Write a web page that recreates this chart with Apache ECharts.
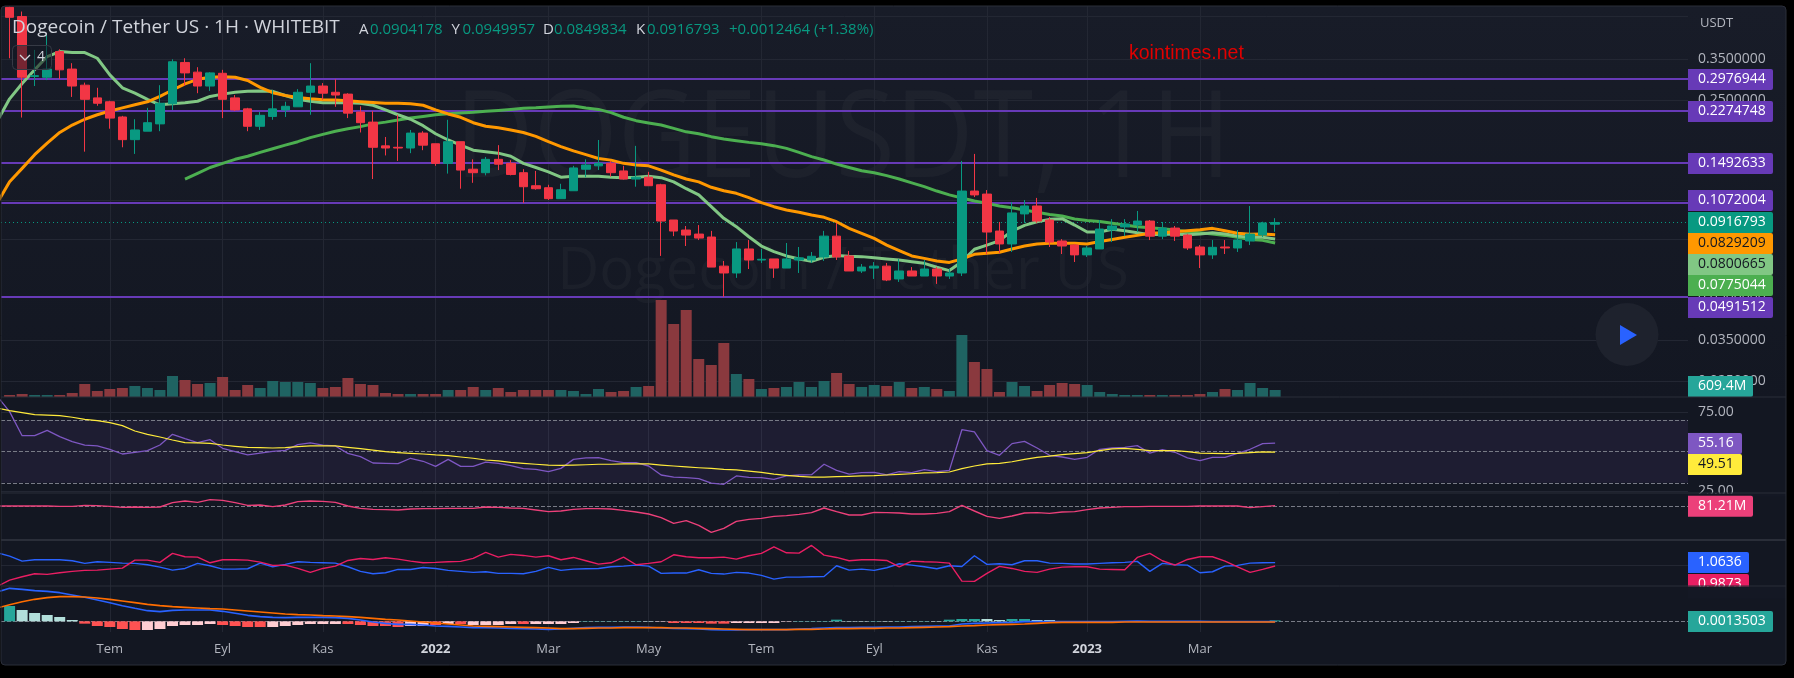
<!DOCTYPE html>
<html><head><meta charset="utf-8">
<script src="https://cdn.jsdelivr.net/npm/echarts@6/dist/echarts.min.js"></script>
<style>
html,body{margin:0;padding:0;background:#000;width:1794px;height:678px;overflow:hidden}
#panel{position:absolute;left:1px;top:6px;width:1785px;height:659px;background:linear-gradient(#181c28,#131722 60%);border-radius:4px}
#chart{position:absolute;left:0;top:0;width:1794px;height:678px}
</style></head><body><div id="panel"></div><div id="chart"></div>
<script>
const opens=[.536,.497,.304,.302,.373,.323,.283,.255,.247,.218,.181,.194,.206,.243,.341,.315,.281,.312,.255,.233,.202,.219,.231,.237,.267,.281,.267,.263,.227,.209,.172,.170,.169,.191,.175,.149,.178,.142,.138,.154,.149,.138,.124,.122,.1115,.119,.142,.146,.149,.140,.131,.133,.125,.0936,.0862,.0834,.0814,.0641,.0606,.0738,.0674,.0680,.0631,.0674,.0674,.0691,.0820,.0697,.0616,.0631,.0641,.0577,.0616,.0591,.0626,.0591,.0606,.1187,.1158,.0855,.0769,.0984,.1050,.0936,.0788,.0762,.0703,.0738,.0862,.0884,.0899,.0928,.0820,.0876,.0827,.0750,.0703,.0750,.0744,.0788,.0827,.0904178];
const closes=[.494,.302,.306,.323,.321,.281,.252,.244,.216,.181,.196,.208,.244,.343,.313,.281,.313,.252,.231,.202,.221,.233,.238,.267,.281,.265,.261,.225,.208,.170,.169,.169,.191,.173,.149,.178,.141,.138,.154,.148,.136,.123,.121,.1115,.120,.1435,.147,.149,.138,.131,.133,.124,.0928,.0855,.0827,.0807,.0636,.0606,.0738,.0674,.0678,.0631,.0680,.0686,.0695,.0820,.0691,.0616,.0636,.0641,.0572,.0616,.0591,.0626,.0591,.0606,.1187,.1150,.0848,.0769,.0992,.1050,.0928,.0781,.0756,.0703,.0744,.0869,.0891,.0906,.0928,.0820,.0876,.0820,.0744,.0703,.0748,.0744,.0794,.0834,.0914,.0916793];
const lows=[.353,.217,.281,.295,.298,.257,.164,.239,.198,.170,.161,.194,.194,.231,.281,.265,.270,.216,.229,.194,.196,.213,.218,.237,.222,.251,.237,.216,.192,.131,.159,.152,.162,.166,.146,.137,.121,.127,.135,.141,.135,.1076,.120,.1103,.1115,.119,.133,.141,.1336,.1305,.123,.124,.0697,.0820,.0756,.0794,.0636,.0498,.0582,.0626,.0658,.0582,.0631,.0606,.0658,.0669,.0674,.0616,.0606,.0577,.0567,.0563,.0591,.0591,.0554,.0577,.0591,.1130,.0708,.0714,.0720,.0914,.0914,.0750,.0708,.0663,.0691,.0738,.0781,.0820,.0848,.0794,.0800,.0788,.0732,.0631,.0680,.0708,.0720,.0762,.0814,.0849834];
const highs=[.539,.518,.378,.427,.380,.339,.289,.277,.249,.220,.214,.235,.283,.350,.353,.328,.315,.321,.261,.235,.227,.272,.247,.274,.339,.288,.297,.265,.238,.229,.185,.222,.196,.194,.175,.213,.178,.154,.157,.173,.153,.142,.140,.125,.126,.146,.154,.1805,.152,.146,.172,.139,.126,.0936,.0891,.0898,.0856,.0669,.0781,.0794,.0738,.0680,.0775,.0750,.0720,.0856,.0914,.0726,.0652,.0663,.0658,.0680,.0636,.0674,.0636,.0626,.1520,.1610,.1197,.0921,.1085,.1103,.1122,.0960,.0800,.0769,.0756,.0936,.0943,.0943,.1008,.0936,.0921,.0891,.0834,.0762,.0794,.0794,.0862,.1050,.0923,.0949957];
const volumes=[174,261,174,174,174,348,1131,522,696,783,957,783,609,1827,1479,1131,1218,1740,609,1044,783,1392,1305,1305,1218,783,870,1653,1131,1044,348,261,261,261,261,609,609,870,609,783,435,609,609,609,609,522,261,696,435,522,870,957,8439,6351,7569,3306,2784,4698,2001,1566,696,783,870,1305,870,1392,2088,1131,870,1044,957,1305,783,870,696,522,5394,3045,2436,435,1305,957,522,1044,1218,1131,1044,435,261,174,174,174,174,174,174,261,435,696,609,1218,783,609.4];
// moving averages start one bar before the first visible candle
const smaFast=[.210,.253,.287,.321,.358,.373,.370,.370,.353,.308,.277,.265,.252,.241,.243,.245,.248,.258,.263,.267,.269,.270,.269,.260,.252,.248,.245,.245,.245,.244,.240,.231,.222,.214,.203,.190,.1805,.173,.166,.164,.162,.158,.149,.144,.139,.133,.134,.134,.134,.133,.1325,.133,.134,.1325,.128,.121,.115,.1044,.0949,.0886,.0816,.0756,.0722,.0697,.0680,.0667,.0689,.0699,.0695,.0693,.0687,.0680,.0674,.0665,.0656,.0635,.0618,.0665,.0736,.0762,.0790,.0855,.0896,.0923,.0941,.0946,.0898,.0848,.0848,.0867,.0857,.0843,.0830,.0832,.0834,.0830,.0834,.0843,.0834,.0820,.0812,.0812,.0800665];
const smaMid=[.1073,.1282,.143,.160,.176,.192,.204,.214,.222,.229,.235,.241,.247,.258,.272,.286,.297,.302,.3035,.302,.294,.278,.266,.260,.256,.253,.2513,.2506,.249,.247,.2455,.244,.2439,.243,.240,.231,.2235,.2175,.208,.202,.1995,.196,.192,.186,.178,.171,.165,.160,.155,.153,.149,.147,.146,.141,.1355,.131,.128,.1224,.119,.1165,.1125,.108,.1044,.1016,.0997,.0975,.0957,.0923,.0874,.0839,.0805,.0762,.0728,.0697,.0683,.0669,.0661,.0680,.0706,.0712,.0718,.0738,.0756,.0769,.0773,.0773,.0773,.0769,.0784,.0798,.0812,.0825,.0839,.0843,.0850,.0857,.0864,.0874,.0857,.0839,.0832,.0834,.0829209];
const smaSlowFirstBar=14;
const smaSlow=[.131,.1373,.144,.149,.154,.158,.163,.168,.173,.178,.184,.189,.194,.198,.2014,.206,.209,.2127,.216,.219,.222,.224,.2253,.2265,.2284,.230,.232,.234,.235,.2367,.238,.2386,.2347,.232,.226,.2175,.2115,.2075,.204,.1986,.193,.190,.1855,.182,.1795,.177,.175,.1723,.1685,.163,.1574,.1532,.148,.144,.1403,.138,.1347,.131,.127,.1231,.1187,.115,.1122,.1094,.1073,.105,.1035,.1016,.0997,.098,.0967,.0944,.0933,.0925,.0911,.0898,.0886,.0879,.0871,.0862,.085,.0843,.0834,.0825,.0812,.0798,.0792,.0775044];
const levels=[.2975,.2290,.1494,.1079,.04994];
const lastPrice=.0916793;
const priceGrid=[.5,.35,.25,.11,.08,.05,.035,.025];
const priceLabeled=[.35,.25,.05,.035,.025];
const rsi=[85,75.2,59.9,59.9,63.3,59.3,56.1,54.0,53.4,51.3,48.3,49.4,50.4,54.0,60.8,58.0,55.5,57.4,51.9,49.8,47.7,48.9,50.0,50.6,54.2,55.3,54.0,53.4,48.7,46.6,42.6,42.4,42.2,45.6,43.7,40.5,44.9,40.5,40.5,43.2,42.4,40.9,39.0,38.6,37.1,39.2,44.9,45.8,46.0,44.1,42.8,42.8,40.7,35.0,33.7,33.3,32.7,29.9,29.1,34.4,33.5,33.3,32.2,34.4,35.0,35.2,41.8,37.9,35.6,36.5,36.7,35.0,37.1,36.5,38.4,37.1,37.9,63.7,62.3,50.4,47.5,54.9,56.3,52.1,47.5,46.4,44.9,46.2,51.3,52.1,52.5,53.6,48.9,51.1,49.4,45.8,44.1,46.2,46.2,48.7,51.3,54.9,55.16];
const rsiMa=[77.5,75.8,74.5,73.3,73.0,72.6,71.6,70.3,69.5,68.2,66.3,62.9,60.8,59.1,57.2,55.5,55.3,55.1,54.0,53.2,52.5,52.3,52.1,52.3,53.0,53.4,53.4,53.4,52.5,51.7,50.8,49.8,49.2,48.7,48.3,47.7,47.3,46.4,45.6,44.5,43.9,43.0,42.4,41.8,41.3,41.1,41.3,41.5,41.8,41.8,42.0,42.0,42.0,41.3,40.7,40.1,39.6,39.2,38.6,38.2,37.5,36.7,35.6,34.8,34.1,33.7,33.7,33.9,34.1,34.4,34.6,35.0,35.4,35.8,36.3,36.5,36.9,39.0,40.7,42.0,42.4,43.4,44.9,46.2,47.0,47.9,48.5,49.2,50.4,51.5,51.9,51.3,50.4,50.4,50.4,49.8,48.9,48.7,48.5,48.7,49.2,49.6,49.51];
const osc=[40,40,40,40,40,0,0,120,80,0,-120,-80,-120,-80,440,640,480,800,720,440,120,160,-40,160,560,640,600,480,40,-240,-360,-400,-440,-320,-280,-280,-240,-240,-240,-80,-120,-200,-240,-440,-640,-560,-360,-280,-280,-320,-480,-680,-920,-1360,-2040,-1720,-2280,-3120,-2640,-1800,-1560,-1440,-1200,-1120,-960,-760,-200,-640,-1040,-1040,-720,-760,-800,-920,-920,-840,-640,120,-560,-1200,-1440,-1160,-800,-760,-840,-680,-640,-400,-200,-120,-40,-40,0,0,0,0,40,40,40,40,-160,-40,81.21];
const vortexPlus=[1.29,1.214,1.099,1.130,1.130,1.130,1.107,1.046,1.084,1.069,1.053,1.046,1.015,.962,.893,.931,1.046,.992,.916,.916,.924,1.053,.969,1.023,1.084,1.069,1.061,1.053,.969,.863,.809,.832,.908,.908,.954,.931,.886,.863,.840,.855,.817,.817,.809,.863,.954,.886,.916,.924,.931,.969,.985,1.008,.985,.817,.825,.825,.901,.817,.802,.840,.825,.771,.687,.733,.733,.741,.748,.992,.893,.916,.886,.947,1.038,1.008,.969,.924,.992,.977,1.221,1.023,1.038,1.015,1.107,1.107,1.053,1.046,1.031,1.031,1.046,1.061,1.069,1.092,.863,1.046,1.015,1.008,.832,.855,.985,1.000,1.053,1.061,1.0636];
const vortexMinus=[.52,.664,.741,.809,.794,.832,.863,.886,.893,.916,.939,1.122,1.122,1.069,1.275,1.198,1.191,1.061,1.130,1.130,1.122,1.076,1.000,1.008,.931,.840,.931,.985,1.114,1.160,1.137,1.175,1.145,1.099,1.061,1.069,1.084,1.092,1.160,1.298,1.191,1.252,1.229,1.191,1.221,1.130,1.183,1.107,1.031,1.061,1.191,1.015,1.046,1.084,1.244,1.198,1.175,1.175,1.191,1.145,1.221,1.275,1.427,1.290,1.282,1.458,1.237,1.183,1.107,1.130,1.130,1.114,.969,1.099,1.084,1.076,1.053,.641,.634,.817,.977,.931,.863,.840,.916,.962,.969,.969,.916,.908,.901,1.183,1.275,1.107,1.008,1.137,1.198,1.198,1.099,.969,.840,.908,.9873];
const macdLine=[.0440,.0495,.0480,.0460,.0450,.0430,.0395,.0360,.0320,.0280,.0235,.0195,.0160,.0145,.0165,.0170,.0170,.0170,.0150,.0120,.0090,.0070,.0060,.0055,.0060,.0060,.0060,.0055,.0045,.0020,-.0010,-.0030,-.0045,-.0045,-.0055,-.0070,-.0075,-.0085,-.0095,-.0095,-.0100,-.0105,-.0110,-.0115,-.0120,-.0115,-.0105,-.0095,-.0090,-.0090,-.0085,-.0085,-.0090,-.0100,-.0105,-.0110,-.0115,-.0125,-.0130,-.0130,-.0125,-.0125,-.0125,-.0125,-.0115,-.0110,-.0100,-.0095,-.0095,-.0090,-.0090,-.0085,-.0085,-.0080,-.0075,-.0070,-.0070,-.0040,-.0030,-.0025,-.0020,-.0015,-.0005,-.0005,-.0005,-.0005,-.0005,-.0005,-.0005,-.0005,0,.0005,0,0,0,0,0,-.0005,-.0005,-.0005,-.0005,-.0005,-.0005];
const macdSignal=[.0200,.0250,.0295,.0330,.0355,.0370,.0370,.0365,.0350,.0330,.0305,.0280,.0255,.0235,.0220,.0210,.0200,.0190,.0185,.0170,.0155,.0140,.0125,.0110,.0100,.0095,.0085,.0080,.0070,.0060,.0045,.0030,.0020,.0005,-.0010,-.0025,-.0040,-.0055,-.0070,-.0075,-.0080,-.0085,-.0090,-.0095,-.0100,-.0110,-.0110,-.0105,-.0100,-.0100,-.0095,-.0095,-.0095,-.0095,-.0100,-.0100,-.0105,-.0110,-.0115,-.0120,-.0125,-.0125,-.0125,-.0125,-.0120,-.0120,-.0115,-.0110,-.0110,-.0105,-.0105,-.0100,-.0100,-.0095,-.0090,-.0085,-.0080,-.0070,-.0065,-.0055,-.0050,-.0045,-.0040,-.0030,-.0020,-.0015,-.0015,-.0015,-.0015,-.0015,-.0010,-.0010,-.0010,-.0010,-.0010,-.0010,-.0010,-.0010,-.0010,-.0010,-.0010,-.0010,-.0010];
const macdHist=[.023,.017,.0125,.0095,.0065,.002,-.0035,-.007,-.0085,-.0115,-.013,-.013,-.0115,-.007,-.0055,-.0055,-.004,-.0055,-.007,-.0085,-.0085,-.0085,-.007,-.0055,-.004,-.004,-.004,-.004,-.0055,-.007,-.007,-.0085,-.007,-.007,-.0055,-.004,-.004,-.0055,-.0055,-.0055,-.004,-.004,-.004,-.004,-.004,-.0025,.0005,.0005,.0005,.0005,.0005,.0005,-.0005,-.0025,-.0025,-.0025,-.0035,-.0035,-.0025,-.0025,-.0025,-.0025,-.0005,.0005,.0005,.0005,.0025,.0005,.0005,.0005,.0005,.0005,.0005,.0005,.0005,.0025,.0035,.0035,.0035,.002,.0035,.0035,.002,.002,.0005,.0005,.0005,.0005,.0005,.0005,.0005,-.001,-.001,-.001,-.001,-.001,-.001,-.001,-.001,-.001,-.001,.00135];
const macdHistKinds="TLLLLLRRRRRPPPPPPRRRRPPPPPPRRRRRPPRPRPPPPRPPPPTTTTTLPRRRRRPPPPPTTTTLLTLTTTLTTTLLTTLLTLLLLLLRRRRRRRRRRT".split('');
const timeTicks=[8,17,25,34,43,51,60,69,78,86,95];
const timeLabels=['Tem','Eyl','Kas','2022','Mar','May','Tem','Eyl','Kas','2023','Mar'];
const ohlcNames=['A','Y','D','K'];
const ohlcValues=['0.0904178','0.0949957','0.0849834','0.0916793'];
const changeText='+0.0012464 (+1.38%)';
const priceTagTexts=['0.2976944','0.2274748','0.1492633','0.1072004','0.0916793','0.0829209','0.0800665','0.0775044','0.0491512','609.4M','55.16','49.51','81.21M','1.0636','0.9873','0.0013503'];
const priceTagFills=['#673ab7','#673ab7','#673ab7','#673ab7','#089981','#ff9800','#81c784','#4caf50','#673ab7','#26a69a','#7e57c2','#ffeb3b','#ec407a','#2962ff','#e91e63','#26a69a'];
const priceTagInk=['#fff','#fff','#fff','#fff','#fff','#131722','#131722','#fff','#fff','#fff','#fff','#131722','#fff','#fff','#fff','#fff'];
const priceTagCentres=[79.5,111.5,163.5,200.5,222.5,243.5,264.5,285.5,307.5,386.5,443.5,464.5,506.3,562.5,584.5,621.5];
const priceTagWidths=[85,85,85,85,85,85,85,85,85,65,54,54,65,61,61,85];

const FONT='"Open Sans","Noto Sans",sans-serif';
const UP='#089981',DOWN='#f23645',GRID='#232733';
const xMin=-0.686,xMax=133.95;
const kindColor={T:'#26a69a',L:'#b2dfdb',R:'#ff5252',P:'#ffcdd2'};
const panes=[
 {top:6,height:391},{top:6,height:391},{top:397,height:96},{top:493,height:47},{top:540,height:46.3},{top:586,height:46}
];
const grids=panes.map(p=>({left:1,width:1687,top:p.top,height:p.height,containLabel:false}));
const xAxes=panes.map((p,k)=>({
  type:'value',gridIndex:k,min:xMin,max:xMax,
  axisLine:{show:false},
  axisTick:{show:false,customValues:timeTicks},
  splitLine:{show:k!==1,lineStyle:{color:GRID,width:1}},
  axisLabel:k===5?{show:true,customValues:timeTicks,margin:11,color:'#b2b5be',fontFamily:FONT,fontSize:13,
    formatter:v=>{const t=timeLabels[timeTicks.indexOf(v)]||'';return /^\d+$/.test(t)?'{y|'+t+'}':t;},
    rich:{y:{color:'#d1d4dc',fontWeight:'bold',fontFamily:FONT,fontSize:13}}}:{show:false}
}));
const yBase={axisLine:{show:false},axisTick:{show:false},axisLabel:{show:false},splitLine:{show:false}};
const yAxes=[
 Object.assign({type:'log',gridIndex:0,logBase:10,min:.0219,max:.542},yBase),
 Object.assign({type:'value',gridIndex:1,min:0,max:34017},yBase),
 Object.assign({type:'value',gridIndex:2,min:23.58,max:84.45},yBase),
 Object.assign({type:'value',gridIndex:3,min:-4040,max:1600},yBase),
 Object.assign({type:'value',gridIndex:4,min:.5219,max:1.5824},yBase),
 Object.assign({type:'value',gridIndex:5,min:-.016,max:.053},yBase)
];
function ln(arr,idx,color,width,first,extra){
  return Object.assign({type:'line',xAxisIndex:idx,yAxisIndex:idx,symbol:'none',silent:true,z:3,clip:true,
    data:arr.map((v,k)=>[k+first,v]),lineStyle:{color,width,join:'round'}},extra||{});
}
const dash={type:'dashed',color:'#787b86',width:1,dashOffset:0};
function mlBase(z){return {silent:true,symbol:'none',z:z,animation:false,precision:8};}
const tickLbl=(txt)=>({show:true,position:'end',distance:10,formatter:txt,color:'#b2b5be',fontFamily:FONT,fontSize:14});
const series=[
 {type:'bar',xAxisIndex:1,yAxisIndex:1,barWidth:11,z:1,silent:true,
  data:volumes.map((v,k)=>[k,v]),
  itemStyle:{color:p=>closes[p.dataIndex]>=opens[p.dataIndex]?'#1f6362':'#8a393e'}},
 ln(smaSlow,0,'#4caf50',3,smaSlowFirstBar,{markLine:Object.assign(mlBase(1),{
    lineStyle:{color:GRID,width:1,type:'solid'},
    data:priceGrid.map(v=>({yAxis:v,label:priceLabeled.includes(v)?tickLbl(v.toFixed(7)):{show:false}}))
 })}),
 ln(smaFast,0,'#81c784',3,-1,{markLine:Object.assign(mlBase(2),{
    lineStyle:{color:'#673ab7',width:2,type:'solid'},label:{show:false},
    data:levels.map(v=>({yAxis:v}))
 })}),
 ln(smaMid,0,'#ff9800',3,-1,{markLine:Object.assign(mlBase(2),{
    lineStyle:{color:UP,width:1,type:[1,3]},label:{show:false},
    data:[{yAxis:lastPrice}]
 })}),
 {type:'candlestick',xAxisIndex:0,yAxisIndex:0,barWidth:9,z:5,silent:true,clip:true,
  data:opens.map((o,k)=>[k,o,closes[k],lows[k],highs[k]]),
  itemStyle:{color:UP,color0:DOWN,borderColor:UP,borderColor0:DOWN,borderWidth:1}},
 ln(rsi,2,'#7e57c2',1.3,-1,{z:4,markLine:Object.assign(mlBase(2),{
    lineStyle:dash,label:{show:false},
    data:[{yAxis:70},{yAxis:50},{yAxis:30},
      {yAxis:75,lineStyle:{color:GRID,type:'solid',width:1},label:tickLbl('75.00')},
      {yAxis:25,lineStyle:{color:GRID,type:'solid',width:1},label:tickLbl('25.00')}]
 }),markArea:{silent:true,z:1,itemStyle:{color:'rgba(126,87,194,.1)'},data:[[{yAxis:70},{yAxis:30}]]}}),
 ln(rsiMa,2,'#ffeb3b',1.2,-1,{z:5}),
 ln(osc,3,'#ec407a',1.4,-1,{markLine:Object.assign(mlBase(2),{lineStyle:dash,label:{show:false},data:[{yAxis:0}]})}),
 ln(vortexPlus,4,'#2962ff',1.4,-1,{markLine:Object.assign(mlBase(2),{lineStyle:{color:GRID,type:'solid',width:1},label:{show:false},data:[{yAxis:1}]})}),
 ln(vortexMinus,4,'#e91e63',1.4,-1),
 {type:'bar',xAxisIndex:5,yAxisIndex:5,barWidth:11,z:2,silent:true,
  data:macdHist.map((v,k)=>[k,v]),
  itemStyle:{color:p=>kindColor[macdHistKinds[p.dataIndex]]},
  markLine:Object.assign(mlBase(1),{lineStyle:dash,label:{show:false},data:[{yAxis:0}]})},
 ln(macdLine,5,'#2962ff',1.6,-1,{z:4}),
 ln(macdSignal,5,'#ff6d00',1.6,-1,{z:5})
];
// overlay furniture: title, watermark, price tags, pane separators, play button
const g=[];
g.push({type:'text',z:0,silent:true,x:843,y:143,scaleX:.895,style:{x:0,y:0,text:'DOGEUSDT, 1H',align:'center',verticalAlign:'middle',fill:'rgba(255,255,255,.03)',font:'121px '+FONT}});
g.push({type:'text',z:0,silent:true,x:843,y:272,style:{x:0,y:0,text:'Dogecoin / Tether US',align:'center',verticalAlign:'middle',fill:'rgba(255,255,255,.03)',font:'58px '+FONT}});
g.push({type:'text',z:90,silent:true,style:{x:12,y:28,text:'Dogecoin / Tether US · 1H · WHITEBIT',verticalAlign:'middle',fill:'#d1d4dc',font:'500 19px '+FONT}});
const ohlcX=[359,451.5,543,636];
ohlcNames.forEach((n,k)=>{
  g.push({type:'text',z:90,silent:true,style:{x:ohlcX[k],y:30,text:n,verticalAlign:'middle',fill:'#d1d4dc',font:'15px '+FONT}});
  g.push({type:'text',z:90,silent:true,style:{x:ohlcX[k]+11,y:30,text:ohlcValues[k],verticalAlign:'middle',fill:UP,font:'15px '+FONT}});
});
g.push({type:'text',z:90,silent:true,style:{x:729,y:30,text:changeText,verticalAlign:'middle',fill:UP,font:'15px '+FONT}});
g.push({type:'text',z:90,silent:true,style:{x:1129,y:54,text:'kointimes.net',verticalAlign:'middle',fill:'#e00000',font:'19.5px "Liberation Sans",Arial,sans-serif'}});
g.push({type:'rect',z:85,silent:true,shape:{x:12.5,y:45.5,width:39,height:24,r:4},style:{fill:'rgba(19,23,34,.55)',stroke:'#363a45',lineWidth:1}});
g.push({type:'polyline',z:90,silent:true,shape:{points:[[20,55],[25,60],[30,55]]},style:{stroke:'#d1d4dc',lineWidth:1.3,fill:null}});
g.push({type:'text',z:90,silent:true,style:{x:37,y:57,text:'4',verticalAlign:'middle',fill:'#d1d4dc',font:'14px '+FONT}});
g.push({type:'text',z:90,silent:true,style:{x:1700,y:23,text:'USDT',verticalAlign:'middle',fill:'#b2b5be',font:'13px '+FONT}});
g.push({type:'circle',z:80,silent:true,shape:{cx:1627,cy:334.5,r:31.5},style:{fill:'#1e222d'}});
g.push({type:'polygon',z:81,silent:true,shape:{points:[[1620,325],[1637,335],[1620,345]]},style:{fill:'#2962ff'}});
g.push({type:'rect',z:50,silent:true,shape:{x:1688,y:493.5,width:98,height:3},style:{fill:'#141824'}});
priceTagTexts.forEach((t,k)=>{
  const cy=priceTagCentres[k],w=priceTagWidths[k];
  g.push({type:'rect',z:100,silent:true,shape:{x:1688,y:cy-10.5,width:w,height:21,r:[0,2,2,0]},style:{fill:priceTagFills[k]}});
  g.push({type:'text',z:101,silent:true,style:{x:1698,y:cy,text:t,verticalAlign:'middle',fill:priceTagInk[k],font:'14px '+FONT}});
});
g.push({type:'rect',z:110,silent:true,shape:{x:1688,y:586.5,width:98,height:12},style:{fill:'#141824'}});
[[397,1],[493,1],[540,2],[586,1]].forEach(s=>{
  g.push({type:'line',z:120,silent:true,shape:{x1:1,y1:s[0],x2:1786,y2:s[0]},style:{stroke:'#2a2e39',lineWidth:s[1]}});
});
g.push({type:'rect',z:130,silent:true,shape:{x:1,y:6,width:1785,height:659,r:4},style:{fill:null,stroke:'#2a2e39',lineWidth:1}});

const chart=echarts.init(document.getElementById('chart'),null,{renderer:'canvas',width:1794,height:678});
chart.setOption({backgroundColor:'transparent',animation:false,textStyle:{fontFamily:FONT},
  grid:grids,xAxis:xAxes,yAxis:yAxes,series,graphic:{elements:g}});
</script></body></html>
